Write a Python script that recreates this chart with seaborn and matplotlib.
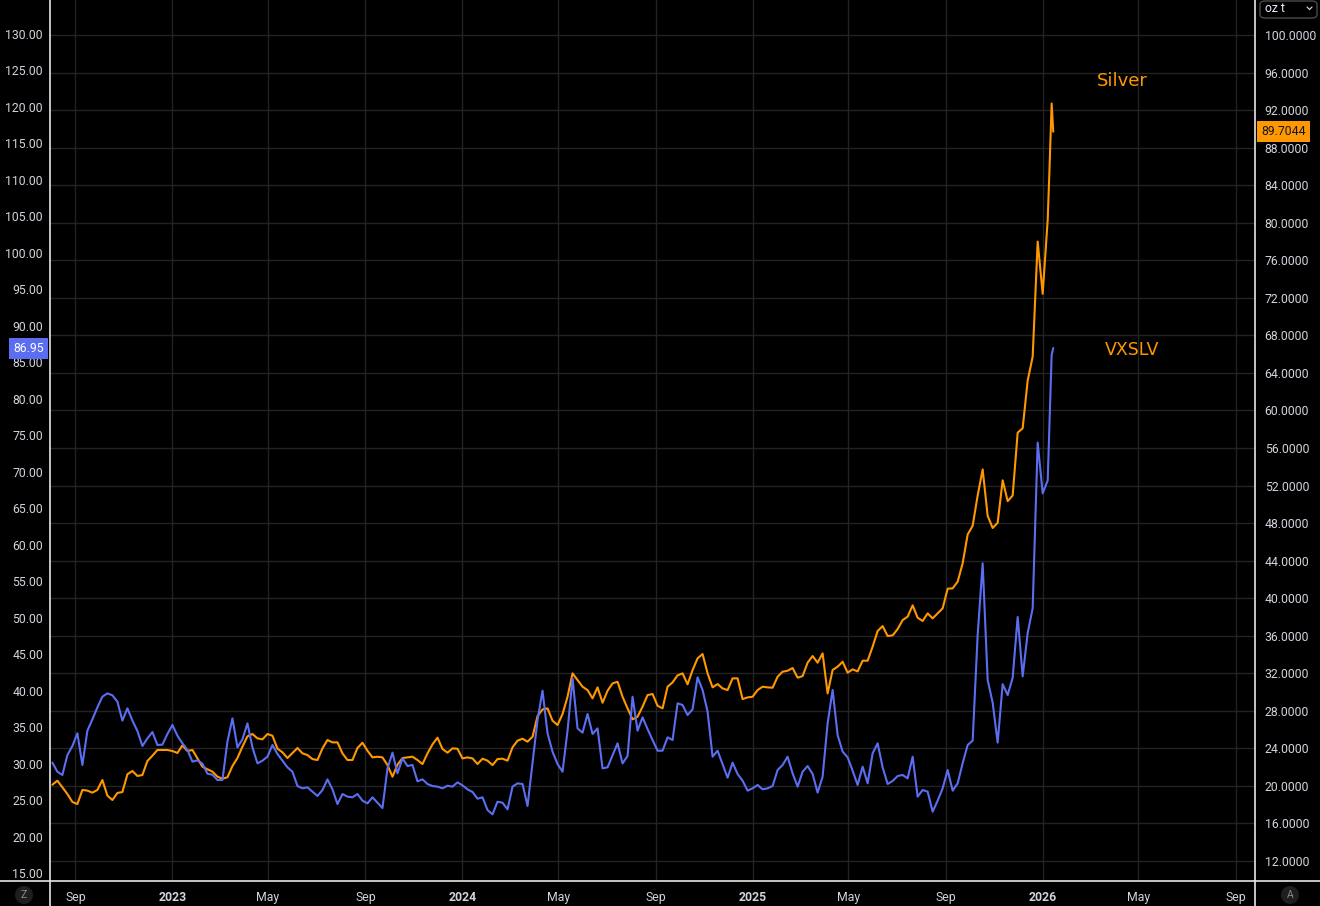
import matplotlib
matplotlib.use("Agg")
import matplotlib.pyplot as plt
import matplotlib.transforms as mtransforms
from matplotlib.lines import Line2D
from matplotlib.patches import FancyBboxPatch, Circle
import pandas as pd
import seaborn as sns

# ---------------- data ----------------
start_date = "2022-08-03"
end_date = "2026-01-07"
tail_dates = ["2026-01-09", "2026-01-12", "2026-01-14"]

vxslv = [30.13, 28.89, 28.44, 31.18, 32.41, 34.15, 29.81, 34.51, 36.07, 37.71, 39.17, 39.63, 39.36, 38.49,
         35.89, 37.58, 35.89, 34.47, 32.41, 33.46, 34.33, 32.55, 32.60, 34.06, 35.29, 33.83, 32.78, 31.87,
         30.27, 30.45, 29.99, 28.62, 28.48, 27.75, 27.75, 33.01, 36.20, 32.23, 33.33, 35.52, 32.23, 30.04,
         30.40, 30.95, 32.55, 31.32, 30.40, 29.49, 28.89, 26.93, 26.61, 26.75,
         26.15, 25.56, 26.38, 27.84, 26.47, 24.46, 25.83, 25.47, 25.38, 25.83, 24.92, 24.55, 25.38, 24.64,
         23.91, 29.35, 31.50, 28.67, 30.72, 29.67, 29.81, 27.57, 27.84, 27.20, 26.93, 26.84, 26.61, 26.97,
         26.84, 27.43, 27.02, 26.47, 26.11, 25.19, 25.38, 23.64, 23.05, 24.78, 24.64, 23.73, 26.84, 27.29,
         27.20, 24.19, 30.04, 35.98, 40.00, 34.15, 31.63, 29.94,
         28.89, 34.51, 41.69, 34.83, 34.24, 36.80, 34.06, 34.83, 29.35, 29.49, 31.13, 32.78, 30.03, 31.04,
         39.17, 34.51, 36.34, 34.74, 33.23, 31.77, 31.77, 33.60, 33.23, 38.26, 38.03, 36.66, 37.44, 41.82,
         40.09, 37.12, 30.95, 31.77, 29.94, 28.07, 30.13, 28.57, 27.66, 26.29, 26.61, 27.07, 26.47, 26.61,
         26.93, 29.12, 29.81, 30.95, 28.66, 26.84, 28.89, 29.67,
         28.58, 26.02, 28.21, 35.52, 40.09, 33.92, 31.64, 30.86, 29.03, 27.07, 29.58, 27.30, 31.41, 32.78,
         29.49, 27.21, 27.62, 28.30, 28.44, 27.98, 30.95, 25.47, 26.38, 26.16, 23.41, 24.92, 26.61, 29.12,
         26.29, 27.30, 30.04, 32.55, 33.15, 47.63, 57.45, 41.46, 38.35, 32.87,
         40.89, 39.40, 41.78, 50.10, 41.96, 47.90, 51.29, 74.00, 67.04, 68.80]
vxslv_tail = [75.5, 86.0, 86.95]

silver = [20.13, 20.56, 19.85, 19.14, 18.29, 18.07, 19.57, 19.50, 19.28, 19.57, 20.63, 18.96, 18.50, 19.25,
          19.35, 21.24, 21.59, 21.06, 21.16, 22.66, 23.22, 23.83, 23.83, 23.83, 23.72, 23.51, 24.32, 23.72,
          23.83, 22.94, 22.05, 21.77, 21.52, 20.99, 20.77, 20.92, 22.12, 22.97, 24.18, 25.28, 25.53, 25.07,
          24.96, 25.53, 25.35, 23.97, 23.58, 22.97, 23.51, 24.04, 23.47, 23.29,
          22.86, 22.76, 24.00, 24.89, 24.64, 24.64, 23.47, 22.76, 22.76, 24.04, 24.60, 23.75, 23.04, 23.11,
          23.04, 22.22, 20.98, 22.26, 22.97, 23.04, 23.11, 22.76, 22.33, 23.47, 24.43, 25.14, 23.93, 23.54,
          24.00, 23.96, 22.93, 23.04, 22.93, 22.33, 22.90, 22.69, 22.22, 22.86, 22.90, 22.69, 24.11, 24.82,
          25.03, 24.71, 25.24, 27.44, 28.15, 28.26, 26.95, 26.49,
          27.66, 29.50, 31.99, 31.28, 30.57, 30.21, 29.33, 30.50, 28.86, 30.14, 30.92, 31.10, 29.50, 28.26,
          27.09, 27.37, 28.44, 29.68, 29.79, 28.54, 28.26, 30.57, 31.03, 31.78, 31.99, 30.82, 32.34, 33.59,
          34.05, 31.99, 30.50, 30.85, 30.39, 30.21, 31.46, 31.46, 29.25, 29.43, 29.50, 30.21, 30.57, 30.50,
          30.46, 31.63, 32.17, 32.27, 32.56, 31.53, 31.70, 33.13,
          33.84, 33.13, 34.12, 29.86, 32.35, 32.70, 33.23, 32.06, 32.42, 32.20, 33.34, 33.34, 34.83, 36.50,
          37.03, 35.97, 36.04, 36.71, 37.67, 38.03, 39.24, 37.92, 37.57, 38.38, 37.85, 38.38, 38.92, 41.01,
          41.05, 41.76, 43.71,
          46.79, 47.71, 50.94, 53.72, 48.77, 47.48, 48.03,
          52.56, 50.34, 50.94, 57.64, 58.10, 63.19, 65.73, 78.00, 72.43, 80.28]
silver_tail = [85.0, 92.7, 89.7044]

left_ticks = [15, 20, 25, 30, 35, 40, 45, 50, 55, 60, 65, 70, 75, 80, 85, 90, 95, 100,
              105, 110, 115, 120, 125, 130]
right_ticks = [12, 16, 20, 24, 28, 32, 36, 40, 44, 48, 52, 56, 60, 64, 68, 72, 76, 80,
               84, 88, 92, 96, 100]
x_tick_dates = ["2022-09-01", "2023-01-01", "2023-05-01", "2023-09-01", "2024-01-01", "2024-05-01",
                "2024-09-01", "2025-01-01", "2025-05-01", "2025-09-01", "2026-01-01", "2026-05-01",
                "2026-09-01"]
x_tick_labels = ["Sep", "2023", "May", "Sep", "2024", "May", "Sep", "2025", "May", "Sep", "2026",
                 "May", "Sep"]

# ---------------- frame ----------------
dates = list(pd.date_range(start_date, end_date, periods=len(vxslv))) + list(pd.to_datetime(tail_dates))
df = pd.DataFrame({"date": dates, "VXSLV": vxslv + vxslv_tail, "Silver": silver + silver_tail})

BG = "#000000"
GRID = "#232323"
TXT = "#d1d4dc"
ORANGE = "#ff9800"
BLUE = "#5b6ef2"
SEP = "#e6e6e6"

sns.set_theme(style="dark")
plt.rcParams["font.family"] = ["Roboto", "DejaVu Sans"]

W, H = 1320, 906
fig = plt.figure(figsize=(W / 100, H / 100), dpi=100, facecolor=BG)
ax = fig.add_axes([50 / W, 25 / H, 1205 / W, 881 / H])
ax.set_facecolor(BG)
ax2 = ax.twinx()
ax2.patch.set_visible(False)

sns.lineplot(data=df, x="date", y="Silver", ax=ax, color=ORANGE, linewidth=1.5, legend=False)
sns.lineplot(data=df, x="date", y="VXSLV", ax=ax2, color=BLUE, linewidth=1.5, legend=False)

ax.set_xlim(pd.Timestamp("2022-07-31"), pd.Timestamp("2026-09-25"))
ax.set_ylim(9.87, 103.73)
ax2.set_ylim(13.91, 134.66)

ax.yaxis.tick_right()
ax.set_yticks(right_ticks)
ax.set_yticklabels([f"{v:.4f}" for v in right_ticks])
ax2.yaxis.tick_left()
ax2.set_yticks(left_ticks)
ax2.set_yticklabels([f"{v:.2f}" for v in left_ticks])

ax.set_xticks(pd.to_datetime(x_tick_dates))
ax.set_xticklabels(x_tick_labels)
for lbl in ax.get_xticklabels():
    if lbl.get_text().isdigit():
        lbl.set_fontweight("bold")

ax.grid(True, color=GRID, linewidth=1.0)
ax.set_axisbelow(True)
ax2.grid(False)

ax.tick_params(axis="both", length=0, colors=TXT, labelsize=8.8)
ax.tick_params(axis="y", pad=7)
ax.tick_params(axis="x", pad=7)
ax2.tick_params(axis="y", length=0, colors=TXT, labelsize=8.8, pad=5)
for a in (ax, ax2):
    a.set_xlabel("")
    a.set_ylabel("")
    for sp in a.spines.values():
        sp.set_visible(False)

# separator lines of the chart frame
fig.add_artist(Line2D([0, 1], [25 / H, 25 / H], transform=fig.transFigure, color=SEP, linewidth=1.2))
fig.add_artist(Line2D([50 / W, 50 / W], [0, 1], transform=fig.transFigure, color=SEP, linewidth=1.2))
fig.add_artist(Line2D([1255 / W, 1255 / W], [0, 1], transform=fig.transFigure, color=SEP, linewidth=1.2))

# series titles
ax.text(0.8896, 0.9080, "Silver", transform=ax.transAxes, color=ORANGE, fontsize=13,
        family="DejaVu Sans", ha="center", va="center")
ax.text(0.8979, 0.6030, "VXSLV", transform=ax.transAxes, color=ORANGE, fontsize=12.5,
        family="DejaVu Sans", ha="center", va="center")

# last-value price labels
tr_r = mtransforms.blended_transform_factory(ax.transAxes, ax.transData)
ax.text(1.0 + 6 / 1205, silver_tail[-1], f"{silver_tail[-1]:.4f}", transform=tr_r, ha="left",
        va="center", fontsize=8.8, color="#131722", clip_on=False,
        bbox=dict(boxstyle="square,pad=0.32", fc=ORANGE, ec="none"))
tr_l = mtransforms.blended_transform_factory(ax2.transAxes, ax2.transData)
ax2.text(-6 / 1205, vxslv_tail[-1], f"{vxslv_tail[-1]:.2f}", transform=tr_l, ha="right",
         va="center", fontsize=8.8, color="white", clip_on=False,
         bbox=dict(boxstyle="square,pad=0.32", fc=BLUE, ec="none"))

# unit selector top right
fig.add_artist(FancyBboxPatch((1260 / W, (H - 18) / H), 57 / W, 17 / H, transform=fig.transFigure,
                              boxstyle="round,pad=0,rounding_size=0.004", fc=BG, ec="#4a4a4a", lw=1))
fig.text(1265 / W, (H - 8) / H, "oz t", color="#e8ecff", fontsize=8.8, ha="left", va="center")
fig.add_artist(Line2D([1307 / W, 1309.5 / W, 1312 / W], [(H - 7) / H, (H - 9.5) / H, (H - 7) / H],
                      transform=fig.transFigure, color="#cfcfcf", linewidth=0.9))

# corner buttons (drawn in inch units so they stay round)
for cx, letter in ((24, "Z"), (1290, "A")):
    fig.add_artist(Circle((cx / 100, 11 / 100), 0.09, transform=fig.dpi_scale_trans,
                          fc="#1e1e1e", ec="none"))
    fig.text(cx / W, 11 / H, letter, color="#8a8a8a", fontsize=7.5, ha="center", va="center")

fig.savefig("out.png", dpi=100, facecolor=BG)
